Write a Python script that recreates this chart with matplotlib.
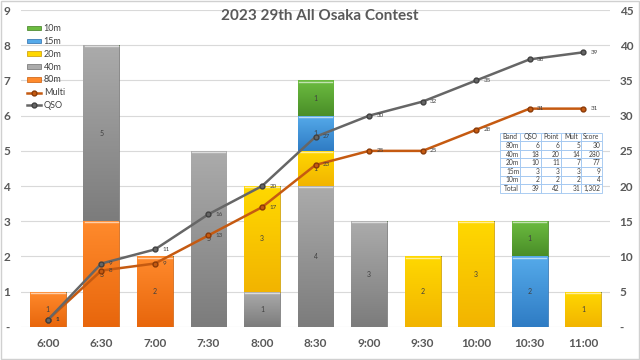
import numpy as np
import matplotlib.pyplot as plt
from matplotlib.ticker import FuncFormatter
from matplotlib.colors import LinearSegmentedColormap

plt.rcParams['font.family'] = ['Lato', 'DejaVu Sans']

times = ['6:00', '6:30', '7:00', '7:30', '8:00', '8:30', '9:00', '9:30', '10:00', '10:30', '11:00']
b80 = [1, 3, 2, 0, 0, 0, 0, 0, 0, 0, 0]
b40 = [0, 5, 0, 5, 1, 4, 3, 0, 0, 0, 0]
b20 = [0, 0, 0, 0, 3, 1, 0, 2, 3, 0, 1]
b15 = [0, 0, 0, 0, 0, 1, 0, 0, 0, 2, 0]
b10 = [0, 0, 0, 0, 0, 1, 0, 0, 0, 1, 0]
qso = [1, 9, 11, 16, 20, 27, 30, 32, 35, 38, 39]
multi = [1, 8, 9, 13, 17, 23, 25, 25, 28, 31, 31]

tbl_cols = ['Band', 'QSO', 'Point', 'Mult', 'Score']
tbl_rows = [['80m', '6', '6', '5', '30'],
            ['40m', '18', '20', '14', '280'],
            ['20m', '10', '11', '7', '77'],
            ['15m', '3', '3', '3', '9'],
            ['10m', '2', '2', '2', '4'],
            ['Total', '39', '42', '31', '1,302']]

# name, values, top colour, bottom colour, edge
bands = [('80m', b80, '#ff8a2c', '#e8660c', '#c85a08'),
         ('40m', b40, '#ababab', '#7c7c7c', '#6e6e6e'),
         ('20m', b20, '#ffd800', '#f2b400', '#c89600'),
         ('15m', b15, '#55aaea', '#2f7cc4', '#2a6aa8'),
         ('10m', b10, '#6cbc40', '#4a8e28', '#3e7e20')]

fig = plt.figure(figsize=(6.4, 3.6), dpi=100)
ax = fig.add_axes([0.033, 0.092, 0.92, 0.88])
x = np.arange(len(times))
w = 0.67
bottom = np.zeros(len(times))
handles = {}
grad = np.linspace(1, 0, 64).reshape(-1, 1)
for name, vals, ctop, cbot, edge in bands:
    vals = np.array(vals)
    cmap = LinearSegmentedColormap.from_list(name, [cbot, ctop])
    h = ax.bar(x, vals, w, bottom=bottom, color=ctop, edgecolor=edge, linewidth=0.5, zorder=2)
    handles[name] = h
    for i, v in enumerate(vals):
        if v > 0:
            im = ax.imshow(grad, cmap=cmap, aspect='auto', vmin=0, vmax=1,
                           extent=(x[i] - w / 2, x[i] + w / 2, bottom[i], bottom[i] + v), zorder=2.1)
            im.set_clip_path(h.patches[i])
            ax.plot([x[i] - w / 2 + 0.02, x[i] + w / 2 - 0.02], [bottom[i] + v - 0.03] * 2,
                    color='white', alpha=0.6, lw=1, zorder=2.2)
            ax.text(x[i], bottom[i] + v / 2, str(v), ha='center', va='center', fontsize=5, color='#404040', zorder=3)
    bottom += vals

ax.set_ylim(0, 9)
ax.set_xlim(-0.5, len(times) - 0.5)
ax.set_yticks(range(10))
ax.yaxis.grid(True, color='#d9d9d9', linewidth=0.8, zorder=0)
ax.set_axisbelow(True)
for s in ax.spines.values():
    s.set_visible(False)
ax.tick_params(length=0, labelsize=8.5, labelcolor='#595959', pad=8)
ax.set_xticks(x)
ax.set_xticklabels(times, fontweight='bold')
ax.yaxis.set_major_formatter(FuncFormatter(lambda v, p: '-' if v == 0 else '%d' % v))
for t in ax.get_yticklabels():
    t.set_fontweight('bold')

ax2 = ax.twinx()
ax2.set_ylim(0, 45)
ax2.set_yticks(range(0, 50, 5))
ax2.yaxis.set_major_formatter(FuncFormatter(lambda v, p: '-' if v == 0 else '%d' % v))
for s in ax2.spines.values():
    s.set_visible(False)
ax2.tick_params(length=0, labelsize=8.5, labelcolor='#595959', pad=7)
for t in ax2.get_yticklabels():
    t.set_fontweight('bold')

lm, = ax2.plot(x, multi, '-o', color='#c55a11', lw=1.8, ms=3.5, mfc='#c55a11', mec='#8a3a08', zorder=4)
lq, = ax2.plot(x, qso, '-o', color='#666666', lw=1.8, ms=3.5, mfc='#666666', mec='#404040', zorder=4)
for i in range(len(times)):
    ax2.text(x[i] + 0.14, multi[i], str(multi[i]), fontsize=4.5, color='#404040', va='center', zorder=5)
    ax2.text(x[i] + 0.14, qso[i], str(qso[i]), fontsize=4.5, color='#404040', va='center', zorder=5)

order = ['10m', '15m', '20m', '40m', '80m']
leg = ax2.legend([handles[n] for n in order] + [lm, lq], order + ['Multi', 'QSO'],
                 loc='upper left', bbox_to_anchor=(0.0, 0.975), frameon=False, fontsize=6.5,
                 handlelength=1.5, handleheight=0.4, labelspacing=0.42, borderaxespad=0.3,
                 handletextpad=0.3, labelcolor='#404040')

fig.text(0.5, 0.955, '2023 29th All Osaka Contest', ha='center', va='center', fontsize=11,
         fontweight='bold', color='#595959')

tb = ax2.table(cellText=tbl_rows, colLabels=tbl_cols, cellLoc='right',
               bbox=[0.813, 0.423, 0.173, 0.19], zorder=6)
tb.auto_set_font_size(False)
tb.set_fontsize(4.8)
for (r, c), cell in tb.get_celld().items():
    cell.set_edgecolor('#9ec5f0')
    cell.set_linewidth(0.6)
    cell.set_facecolor('white')
    cell.PAD = 0.05
    cell.get_text().set_color('#404040')

fig.patches.append(plt.Rectangle((0.002, 0.003), 0.996, 0.994, transform=fig.transFigure,
                                 fill=False, edgecolor='#d0d0d0', lw=1))
fig.savefig('out.png', dpi=100)
